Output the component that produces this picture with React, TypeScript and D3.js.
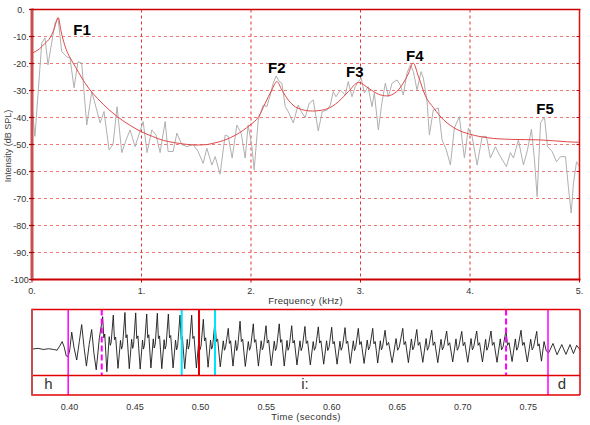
import React from "react";
import * as d3 from "d3";

// spectrum panel
const freqTicks = [0, 1, 2, 3, 4, 5];
const dbTicks = [0, -10, -20, -30, -40, -50, -60, -70, -80, -90, -100];
const dbGrid = [-10, -20, -30, -40, -50, -60, -70, -80, -90];
const freqGrid = [1, 2, 3, 4];

// FFT spectrum [kHz, dB]
const spectrum: [number, number][] = [
  [0.0, -36], [0.027, -47], [0.089, -12.4], [0.119, -10.5], [0.146, -20.5], [0.21, -5],
  [0.238, -3.2], [0.271, -15.6], [0.317, -17.5], [0.347, -18], [0.384, -29], [0.42, -19.3],
  [0.454, -19.9], [0.5, -42.8], [0.546, -30.4], [0.591, -37.2], [0.622, -42], [0.658, -37.8],
  [0.704, -52], [0.74, -50], [0.777, -36], [0.82, -53], [0.866, -47.6], [0.896, -44.6],
  [0.941, -50.8], [0.987, -45], [1.015, -41.5], [1.051, -53], [1.094, -44.6], [1.133, -46.5],
  [1.17, -53], [1.216, -41.5], [1.243, -52.6], [1.289, -52.6], [1.323, -45.8], [1.368, -50],
  [1.414, -50.8], [1.472, -50], [1.517, -52.6], [1.563, -57], [1.597, -51.4], [1.643, -57.6],
  [1.673, -54.5], [1.718, -61], [1.764, -46.5], [1.792, -47], [1.828, -55], [1.871, -42.8],
  [1.91, -45.8], [1.947, -55], [1.974, -42.8], [2.008, -50.8], [2.029, -59.4], [2.066, -41],
  [2.111, -35.4], [2.145, -36], [2.175, -31.7], [2.203, -27.3], [2.23, -24.6], [2.258, -26.7],
  [2.282, -27.3], [2.313, -36], [2.34, -37.8], [2.386, -42], [2.431, -35.4], [2.459, -37.8],
  [2.495, -40], [2.532, -34.7], [2.569, -33.5], [2.614, -45], [2.651, -37.8], [2.694, -37.2],
  [2.724, -35.4], [2.751, -30.4], [2.776, -32.3], [2.815, -29.8], [2.861, -31.7], [2.888, -26.7],
  [2.922, -32.3], [2.952, -28.6], [2.98, -26.7], [3.007, -25.4], [3.035, -30.9], [3.069, -28.6],
  [3.105, -36], [3.126, -30.9], [3.163, -44.6], [3.197, -34.1], [3.227, -27.3], [3.254, -32.3],
  [3.288, -27.3], [3.334, -26.1], [3.364, -28], [3.391, -31.7], [3.425, -23.5], [3.455, -20.5],
  [3.483, -23], [3.516, -29.8], [3.553, -23], [3.574, -25.4], [3.608, -34.1], [3.629, -46.5],
  [3.665, -37.2], [3.711, -36.5], [3.745, -48.3], [3.784, -52], [3.821, -57.6], [3.857, -43.9],
  [3.903, -39.7], [3.928, -48.3], [3.949, -55], [3.985, -43.9], [4.019, -47], [4.065, -57.6],
  [4.111, -47], [4.15, -47], [4.186, -55], [4.232, -50.8], [4.269, -53.9], [4.333, -58.2],
  [4.369, -53], [4.397, -55], [4.442, -48.3], [4.488, -57.6], [4.525, -52], [4.561, -44.3],
  [4.589, -55.7], [4.613, -69.3], [4.644, -42], [4.68, -39.8], [4.708, -50.8], [4.75, -52.6],
  [4.79, -56.4], [4.826, -54.5], [4.872, -54.5], [4.899, -66], [4.924, -75.4], [4.945, -64.3],
  [4.973, -56.4], [5.0, -58.2],
];

// LPC envelope [kHz, dB]
const envelope: [number, number][] = [
  [0, -16.2], [0.07, -14.5], [0.12, -12.5], [0.165, -10.5], [0.2, -7.5], [0.24, -3],
  [0.265, -8], [0.29, -12], [0.32, -15.6], [0.35, -18], [0.4, -21.5], [0.45, -25],
  [0.53, -29.8], [0.6, -33], [0.7, -37], [0.78, -39.7], [0.9, -43], [1.0, -45.3],
  [1.1, -47], [1.2, -48.5], [1.3, -49.3], [1.4, -49.9], [1.5, -50.2], [1.6, -50],
  [1.67, -49.4], [1.75, -48.5], [1.86, -46.5], [1.99, -42.8], [2.07, -39.7], [2.13, -34.7],
  [2.19, -29.8], [2.237, -26.7], [2.282, -29.8], [2.34, -33.5], [2.43, -36.6], [2.56, -37.6],
  [2.68, -37], [2.8, -34.1], [2.89, -30.4], [2.983, -27], [3.075, -29.2], [3.166, -31.4],
  [3.24, -32], [3.33, -30.4], [3.39, -27.3], [3.44, -23.5], [3.48, -19.8], [3.53, -24.9],
  [3.59, -31.7], [3.67, -36.6], [3.76, -40.9], [3.88, -44.4], [4.0, -46.2], [4.16, -47.5],
  [4.37, -48.1], [4.64, -48.3], [4.89, -49], [5.0, -49.2],
];

const formantNames = ["F1", "F2", "F3", "F4", "F5"];
const formantAnchor: [number, number][] = [
  [0.457, -9.3], [2.235, -23.4], [2.948, -25.1], [3.496, -19.0], [4.685, -38.8],
];

// waveform panel
const timeTicks = [0.4, 0.45, 0.5, 0.55, 0.6, 0.65, 0.7, 0.75];

// waveform extrema [ms, amplitude]
const wave: [number, number][] = [
  [371.4, 0], [376, 0.02], [380, -0.01], [384, 0.01], [388, -0.01], [390.5, -0.03],
  [392.5, 0.08], [394.4, 0.2], [396, 0.05], [397.5, -0.18], [399, -0.2], [400.2, -0.02],
  [401.7, 0.45], [403.4, 0.05], [405.5, -0.29], [407.5, 0.2],
  [409.3, 0.65], [411.2, 0.02], [412.9, -0.45], [415.0, 0.12],
  [416.9, 0.52], [418.6, -0.1], [420.4, -0.55], [422.8, 0.3],
  [425.3, 0.86], [426.2, 0.3], [426.9, 0.4], [428.5, -0.6], [430.3, 0.33], [431.1, 0.1], [431.8, 0.18],
  [433.4, 0.9], [434.3, 0.25], [435.2, 0.32], [437.0, -0.51], [438.9, 0.23], [439.7, 0.0], [440.5, 0.1],
  [442.3, 0.97], [443.1, 0.3], [443.9, 0.38], [445.6, -0.52], [447.4, 0.26], [448.2, 0.02], [448.9, 0.12],
  [450.5, 0.96], [451.3, 0.28], [452.2, 0.35], [453.9, -0.53], [455.7, 0.24], [456.4, 0.0], [457.2, 0.1],
  [458.9, 0.93], [459.7, 0.3], [460.5, 0.38], [462.1, -0.5], [463.9, 0.27], [464.6, 0.03], [465.4, 0.12],
  [467.0, 0.95], [467.8, 0.28], [468.7, 0.35], [470.4, -0.52], [472.2, 0.25], [472.9, 0.0], [473.7, 0.1],
  [475.4, 0.93], [476.3, 0.3], [477.2, 0.36], [479.0, -0.5], [480.9, 0.24], [481.7, -0.02], [482.5, 0.08],
  [484.3, 0.9], [485.2, 0.26], [486.1, 0.33], [487.9, -0.52], [489.8, 0.26], [490.6, 0.0], [491.4, 0.1],
  [493.2, 0.9], [494.1, 0.28], [495.0, 0.34], [496.8, -0.5], [498.7, 0.25], [499.5, -0.02], [500.3, 0.08],
  [502.1, 0.79], [503.0, 0.22], [503.9, 0.3], [505.7, -0.48], [507.6, 0.24], [508.4, 0.0], [509.2, 0.08],
  [511.0, 0.75], [512.0, 0.2], [513.0, 0.27], [515.0, -0.47], [517.3, 0.22], [518.2, -0.03], [519.1, 0.06],
  [521.1, 0.55], [522.0, 0.15], [522.9, 0.22], [524.7, -0.45], [526.7, 0.23], [527.5, -0.04], [528.3, 0.05],
  [530.1, 0.74], [531.1, 0.2], [532.1, 0.26], [534.1, -0.46], [536.4, 0.2], [537.3, -0.03], [538.2, 0.06],
  [540.2, 0.67], [541.1, 0.18], [542.1, 0.25], [544.1, -0.45], [546.2, 0.22], [547.1, -0.02], [548.0, 0.07],
  [549.9, 0.62], [550.9, 0.16], [551.9, 0.24], [553.9, -0.44], [556.2, 0.21], [557.1, -0.04], [558.0, 0.05],
  [560.0, 0.67], [561.0, 0.18], [561.9, 0.25], [563.8, -0.45], [565.9, 0.23], [566.7, -0.03], [567.6, 0.06],
  [569.5, 0.62], [570.5, 0.16], [571.5, 0.23], [573.5, -0.42], [575.8, 0.22], [576.7, -0.04], [577.6, 0.05],
  [579.6, 0.6], [580.6, 0.15], [581.6, 0.22], [583.7, -0.42], [585.9, 0.2], [586.8, -0.03], [587.8, 0.06],
  [589.8, 0.59], [590.8, 0.16], [591.8, 0.22], [593.9, -0.4], [596.1, 0.22], [597.0, -0.04], [598.0, 0.05],
  [600.0, 0.58], [601.0, 0.14], [602.0, 0.2], [604.1, -0.4], [606.3, 0.21], [607.2, -0.03], [608.2, 0.06],
  [610.2, 0.57], [611.2, 0.15], [612.2, 0.21], [614.2, -0.38], [616.5, 0.22], [617.4, -0.04], [618.3, 0.05],
  [620.3, 0.55], [621.4, 0.12], [622.5, 0.2], [624.7, -0.38], [627.1, 0.24], [628.1, -0.02], [629.1, 0.07],
  [631.3, 0.55], [632.2, 0.14], [633.2, 0.2], [635.1, -0.37], [637.1, 0.22], [637.9, -0.02], [638.8, 0.06],
  [640.7, 0.5], [642.0, 0.1], [643.4, 0.18], [646.1, -0.36], [649.1, 0.28], [650.3, -0.03], [651.5, 0.05],
  [654.2, 0.55], [655.2, 0.12], [656.3, 0.2], [658.5, -0.36], [660.8, 0.27], [661.8, -0.02], [662.8, 0.06],
  [664.9, 0.52], [666.0, 0.1], [667.2, 0.18], [669.5, -0.35], [672.0, 0.28], [673.0, -0.03], [674.0, 0.05],
  [676.3, 0.5], [677.4, 0.1], [678.6, 0.19], [680.9, -0.36], [683.4, 0.26], [684.4, -0.02], [685.4, 0.06],
  [687.7, 0.48], [688.8, 0.1], [690.0, 0.17], [692.3, -0.34], [694.8, 0.27], [695.8, -0.03], [696.9, 0.05],
  [699.2, 0.47], [700.3, 0.09], [701.5, 0.18], [703.8, -0.35], [706.3, 0.28], [707.3, -0.02], [708.3, 0.06],
  [710.6, 0.48], [711.7, 0.1], [712.8, 0.17], [715.0, -0.34], [717.4, 0.26], [718.3, -0.03], [719.3, 0.05],
  [721.5, 0.48], [722.6, 0.1], [723.8, 0.18], [726.1, -0.35], [728.6, 0.27], [729.6, -0.02], [730.7, 0.06],
  [733.0, 0.5], [734.1, 0.1], [735.3, 0.17], [737.6, -0.33], [740.1, 0.27], [741.1, -0.03], [742.1, 0.05],
  [744.4, 0.5], [745.6, 0.1], [746.8, 0.18], [749.2, -0.34], [751.8, 0.26], [752.9, -0.02], [754.0, 0.06],
  [756.4, 0.47], [757.3, 0.08], [758.2, 0.14], [760.0, -0.32], [762.0, 0.2], [763.7, -0.05],
  [765.5, -0.1], [768.8, 0.15], [771.9, -0.15], [775.5, 0.12], [778.7, -0.14],
  [781.8, 0.12], [784.4, -0.12], [786.9, 0.1], [789.4, -0.02],
];

// cursors / boundaries in seconds
const markerTimes = [0.399, 0.4246, 0.4856, 0.4988, 0.511, 0.733, 0.765];
const markerKinds = ["boundary", "dashed", "cyan", "red", "cyan", "dashed", "boundary"];

const segLabels = ["h", "i:", "d"];
const segMid = [0.384, 0.5796, 0.7757];

const FONT = "'Liberation Sans', Arial, sans-serif";

export default function App() {
  const x = d3.scaleLinear().domain([0, 5]).range([32, 579.5]);
  const y = d3.scaleLinear().domain([-100, 0]).range([279.5, 9.5]);
  const xt = d3.scaleLinear().domain([0.3714, 0.7894]).range([32, 580]);
  const ya = d3.scaleLinear().domain([-0.7, 1.05]).range([375.5, 309.5]);

  const specLine = d3.line<[number, number]>().x(d => x(d[0])).y(d => y(d[1]));
  const envLine = d3.line<[number, number]>()
    .x(d => x(d[0])).y(d => y(d[1])).curve(d3.curveMonotoneX);
  const waveLine = d3.line<[number, number]>()
    .x(d => xt(d[0] / 1000)).y(d => ya(d[1]));

  const [x0, x1] = x.range();
  const [yBot, yTop] = y.range();

  const boxTop = 309.5, tierTop = 375.5, boxBot = 395;
  const wx0 = xt.range()[0], wx1 = xt.range()[1];

  const markerStyle: Record<string, { stroke: string; dash?: string; bottom: number; w: number }> = {
    boundary: { stroke: "#ff00ff", bottom: boxBot, w: 1.5 },
    dashed: { stroke: "#ff00ff", dash: "6,3", bottom: tierTop, w: 2 },
    cyan: { stroke: "#00e5ff", bottom: tierTop, w: 2 },
    red: { stroke: "#e00000", bottom: tierTop, w: 2 },
  };

  return (
    <svg width={590} height={425} style={{ position: "absolute", left: 0, top: 0, background: "#fff" }}
      fontFamily={FONT}>
      <rect width={590} height={425} fill="#fff" />

      {/* grid */}
      {dbGrid.map(d => (
        <line key={"h" + d} x1={x0} x2={x1} y1={y(d)} y2={y(d)}
          stroke="#ee5555" strokeOpacity={0.8} strokeDasharray="3,3" />
      ))}
      {freqGrid.map(f => (
        <line key={"v" + f} x1={x(f)} x2={x(f)} y1={yTop} y2={yBot}
          stroke="#e33333" strokeDasharray="3,3" />
      ))}

      {/* spectrum + envelope */}
      <path d={specLine(spectrum) || ""} fill="none" stroke="#b0b0b0" strokeWidth={1} />
      <path d={envLine(envelope) || ""} fill="none" stroke="#e04848" strokeWidth={1} />

      {formantNames.map((n, i) => (
        <text key={n} x={x(formantAnchor[i][0])} y={y(formantAnchor[i][1])} textAnchor="middle"
          fontSize={15} fontWeight="bold" fill="#000">{n}</text>
      ))}

      {/* frame */}
      <line x1={x0} x2={x1 + 1} y1={yTop} y2={yTop} stroke="#cc0000" strokeWidth={1.5} />
      <line x1={x1} x2={x1} y1={yTop} y2={yBot} stroke="#dd1111" strokeWidth={1.5} />
      {dbTicks.map(d => (
        <line key={"rt" + d} x1={x1 - 3} x2={x1} y1={y(d)} y2={y(d)} stroke="#cc0000" />
      ))}
      <line x1={x0 - 1} x2={x1 + 1} y1={yBot} y2={yBot} stroke="#cc0000" strokeWidth={2} />
      {freqTicks.map(f => (
        <line key={"bt" + f} x1={x(f)} x2={x(f)} y1={yBot} y2={yBot + 3} stroke="#cc0000" />
      ))}
      <line x1={x0} x2={x0} y1={yTop - 1} y2={yBot + 1} stroke="#c85050" strokeWidth={3} />
      {dbTicks.map(d => (
        <line key={"lt" + d} x1={x0 - 3} x2={x0 + 2} y1={y(d)} y2={y(d)} stroke="#b00000" strokeWidth={1.2} />
      ))}

      {dbTicks.map(d => (
        <text key={"yl" + d} x={21} y={y(d)} dy="0.35em" textAnchor="middle" fontSize={9} fill="#333">
          {`${d}.`}
        </text>
      ))}
      {freqTicks.map(f => (
        <text key={"xl" + f} x={x(f)} y={294} textAnchor="middle" fontSize={9} fill="#333">{`${f}.`}</text>
      ))}
      <text transform="translate(10.5,146) rotate(-90)" textAnchor="middle" fontSize={9} fill="#444">
        Intensity (dB SPL)
      </text>
      <text x={305.5} y={303.5} textAnchor="middle" fontSize={9.5} fill="#333" letterSpacing={0.3}>
        Frequency (kHz)
      </text>

      {/* waveform panel */}
      <path d={waveLine(wave) || ""} fill="none" stroke="#1a1a1a" strokeWidth={0.9} />

      {markerTimes.map((t, i) => {
        const s = markerStyle[markerKinds[i]];
        return (
          <line key={"m" + i} x1={xt(t)} x2={xt(t)} y1={boxTop} y2={s.bottom}
            stroke={s.stroke} strokeWidth={s.w} strokeDasharray={s.dash} />
        );
      })}

      <line x1={wx0} x2={wx1} y1={boxTop} y2={boxTop} stroke="#e00000" strokeWidth={1.5} />
      <line x1={wx0} x2={wx1} y1={tierTop} y2={tierTop} stroke="#e00000" strokeWidth={1.5} />
      <line x1={wx0} x2={wx1} y1={boxBot} y2={boxBot} stroke="#e00000" strokeWidth={1.5} />
      <line x1={wx1} x2={wx1} y1={boxTop} y2={boxBot} stroke="#e00000" strokeWidth={1.5} />
      <line x1={wx0} x2={wx0} y1={boxTop - 0.7} y2={boxBot + 0.7} stroke="#c05050" strokeWidth={2} />

      {segLabels.map((l, i) => (
        <text key={"s" + i} x={xt(segMid[i])} y={389} textAnchor="middle" fontSize={15} fill="#333">{l}</text>
      ))}

      {timeTicks.map(t => (
        <text key={"tl" + t} x={xt(t)} y={410} textAnchor="middle" fontSize={9} fill="#333">
          {t.toFixed(2)}
        </text>
      ))}
      <text x={306} y={419.5} textAnchor="middle" fontSize={9.5} fill="#333" letterSpacing={0.3}>
        Time (seconds)
      </text>
    </svg>
  );
}
